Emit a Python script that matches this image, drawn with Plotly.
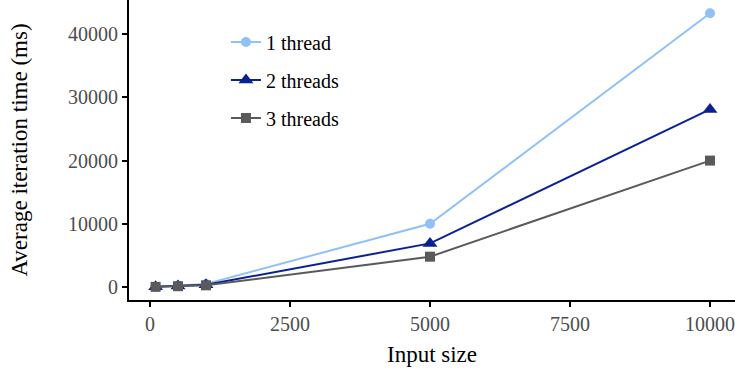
import plotly.graph_objects as go

input_size = [100, 500, 1000, 5000, 10000]
t1 = [60, 250, 500, 10000, 43300]
t2 = [40, 180, 350, 6900, 28100]
t3 = [30, 130, 270, 4800, 20000]

x_ticks = [0, 2500, 5000, 7500, 10000]
y_ticks = [0, 10000, 20000, 30000, 40000]

series = [
    ("1 thread", t1, "#8FC1F7", "circle", 10),
    ("2 threads", t2, "#0A2291", "triangle-up", 13),
    ("3 threads", t3, "#5A5A5A", "square", 10),
]

fig = go.Figure()
for name, ys, col, sym, sz in series:
    fig.add_trace(go.Scatter(
        x=input_size, y=ys, name=name, mode="lines+markers",
        legendgroup=name,
        line=dict(color=col, width=2),
        marker=dict(symbol=sym, size=sz, color=col),
    ))

font = "Liberation Serif"
fig.update_layout(
    width=735, height=371,
    margin=dict(l=129, r=0, t=0, b=71),
    plot_bgcolor="white", paper_bgcolor="white",
    font=dict(family=font, color="black"),
    showlegend=True,
    legend=dict(x=0.16, y=0.925, xanchor="left", yanchor="top",
                font=dict(family=font, size=20, color="black"),
                bgcolor="rgba(0,0,0,0)", tracegroupgap=9,
                itemwidth=30),
    xaxis=dict(
        range=[-375, 10446], showgrid=False, zeroline=False,
        showline=True, linecolor="black", linewidth=2,
        ticks="outside", ticklen=5, tickcolor="black", tickwidth=1.5,
        tickvals=x_ticks, ticktext=[str(v) for v in x_ticks],
        ticklabeloverflow="allow",
        tickfont=dict(family=font, size=20, color="#4D4D4D"),
        title=dict(text="Input size", font=dict(family=font, size=23), standoff=12),
    ),
    yaxis=dict(
        range=[-2050, 45400], showgrid=False, zeroline=False,
        showline=True, linecolor="black", linewidth=2,
        ticks="outside", ticklen=5, tickcolor="black", tickwidth=1.5,
        tickvals=y_ticks, ticktext=[str(v) for v in y_ticks],
        tickfont=dict(family=font, size=20, color="#4D4D4D"),
        title=dict(text="Average iteration time (ms)", font=dict(family=font, size=23), standoff=34),
    ),
)
fig.write_html("out.html")
